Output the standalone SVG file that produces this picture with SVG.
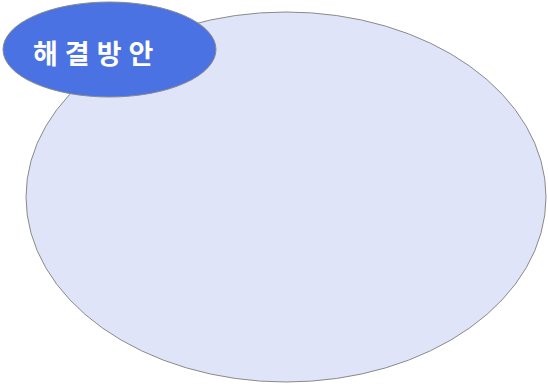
<svg xmlns="http://www.w3.org/2000/svg" width="548" height="388" viewBox="0 0 548 388">
<style>
.shape{stroke:#8a8a8a;stroke-width:1}
.label{font-family:"Noto Sans CJK KR","Noto Sans",sans-serif;font-weight:bold;font-size:27px;fill:#ffffff;letter-spacing:7px}
</style>
<rect width="548" height="388" fill="#ffffff"/>
<g id="area">
<ellipse class="shape" cx="286" cy="197" rx="260" ry="185" fill="#e0e4f8"/>
</g>
<g id="title">
<ellipse class="shape" cx="109.5" cy="49.5" rx="106.5" ry="47.5" fill="#4a72e2"/>
<text class="label" x="33" y="64">해결방안</text>
</g>
<g id="connectors"></g>
</svg>
